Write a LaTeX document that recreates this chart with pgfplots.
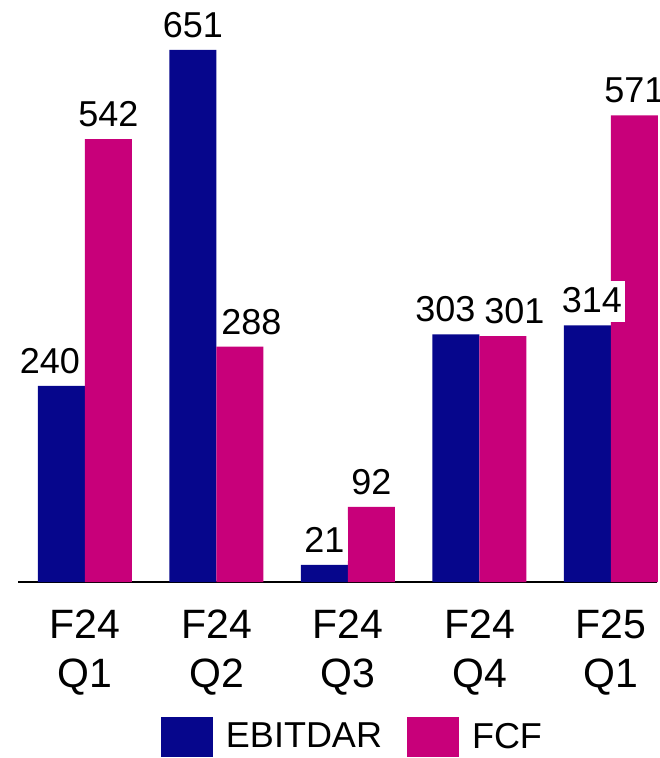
\documentclass[border=0pt]{standalone}
\usepackage{fontspec}
\setmainfont{Liberation Sans}
\usepackage{pgfplots}
\usepackage{pgfplotstable}
\pgfplotsset{compat=1.18}
\definecolor{ebit}{RGB}{6,6,140}
\definecolor{fcf}{RGB}{200,0,122}
\pgfplotstableread{
x ebit fcf dxe dxf
0 240 542 -5.75 0
1 651 288 0 5.75
2 21 92 0 0
3 303 301 -5.25 5.75
4 314 571 2.25 0
}\datatable
\begin{document}
\begin{tikzpicture}
\useasboundingbox (-9.25pt,-88pt) rectangle (320.25pt,291pt);
\begin{axis}[
  at={(0pt,0pt)}, anchor=south west,
  scale only axis, width=319.25pt, height=291pt,
  xmin=-0.5057, xmax=4.35, ymin=0, ymax=712.2,
  axis x line=bottom, axis y line=none,
  axis line style={line width=1pt, -},
  ybar=0pt, bar width=23.5pt,
  xtick={0,1,2,3,4},
  xticklabels={{F24\\Q1},{F24\\Q2},{F24\\Q3},{F24\\Q4},{F25\\Q1}},
  major tick length=0pt,
  xticklabel style={font=\fontsize{20.5}{24.5}\selectfont, align=center, inner sep=0pt, anchor=north, yshift=-13.5pt},
  /pgf/number format/assume math mode=true,
  clip=false,
  legend columns=2,
  legend style={at={(0.5215,-0.2663)}, anchor=center, draw=none, fill=none,
    font=\fontsize{18}{21.6}\selectfont, inner sep=0pt,
    /tikz/every odd column/.append style={column sep=6.5pt},
    /tikz/every even column/.append style={column sep=12.5pt},
    nodes={inner sep=0pt}},
]
\addplot[fill=ebit, draw=none, bar shift=-11.75pt,
  legend image code/.code={\fill[ebit] (0pt,-10pt) rectangle (26pt,10pt);}]
  table[x=x,y=ebit]{\datatable};
\addlegendentry{EBITDAR}
\addplot[fill=fcf, draw=none, bar shift=11.75pt,
  legend image code/.code={\fill[fcf] (0pt,-10pt) rectangle (26pt,10pt);}]
  table[x=x,y=fcf]{\datatable};
\addlegendentry{FCF}
\addplot[draw=none, fill=none, bar shift=11.75pt, forget plot,
  nodes near coords,
  visualization depends on={\thisrow{dxf} \as \dx},
  every node near coord/.append style={xshift={\dx*1pt}, font=\fontsize{18}{21.6}\selectfont, anchor=base, yshift=6.25pt, inner xsep=1.5pt, inner ysep=0pt, text height=16pt, text depth=4.5pt}]
  table[x=x,y=fcf]{\datatable};
\addplot[draw=none, fill=none, bar shift=-11.75pt, forget plot,
  nodes near coords,
  visualization depends on={\thisrow{dxe} \as \dx},
  every node near coord/.append style={xshift={\dx*1pt}, font=\fontsize{18}{21.6}\selectfont, anchor=base, yshift=6.25pt, inner xsep=1.5pt, inner ysep=0pt, text height=16pt, text depth=4.5pt, fill=white}]
  table[x=x,y=ebit]{\datatable};
\end{axis}
\end{tikzpicture}
\end{document}
